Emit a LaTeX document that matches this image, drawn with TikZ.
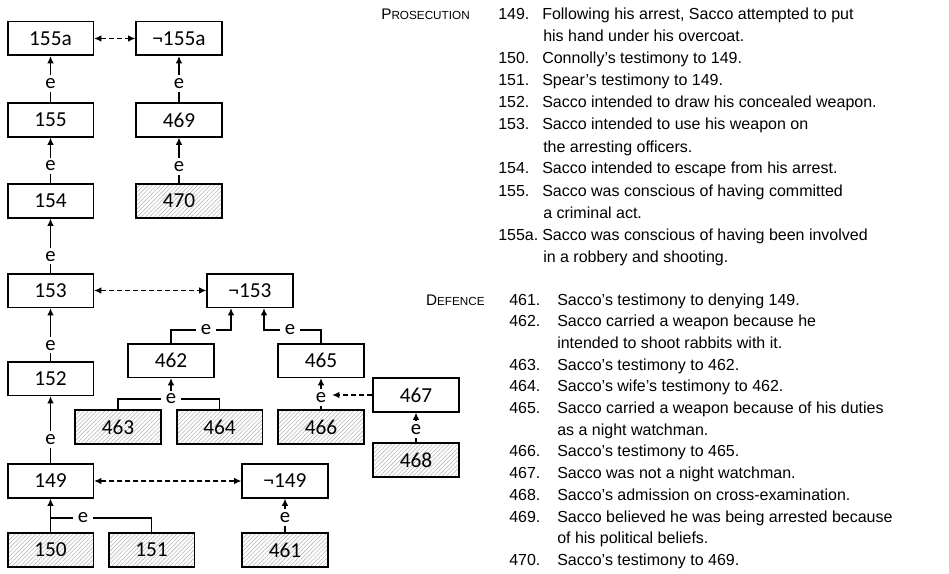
\documentclass[tikz,border=0pt]{standalone}
\usepackage{fontspec}
\setmainfont{Liberation Sans}
\newfontfamily\boxfont{Carlito}
\usetikzlibrary{arrows.meta,patterns.meta}
\begin{document}
\begin{tikzpicture}[x=0.75pt,y=-0.75pt,
  box/.style={draw,line width=1.2pt,minimum width=64.2pt,minimum height=25.2pt,inner sep=0pt,font=\boxfont\fontsize{16}{17}\selectfont},
  hbox/.style={box,pattern={Lines[angle=45,distance=2.2pt,line width=0.45pt]},pattern color=gray!55},
  elab/.style={fill=white,inner xsep=4pt,inner ysep=2.5pt,font=\boxfont\fontsize{15.5}{16}\selectfont},
  arr/.style={line width=1pt,-{Latex[length=5.5pt,width=5pt]}},
  link/.style={line width=1pt},
  dbl/.style={line width=1pt,dash pattern=on 3.75pt off 2.25pt,{Latex[length=5.5pt,width=5pt]}-{Latex[length=5.5pt,width=5pt]}},
  dsh/.style={line width=1pt,dash pattern=on 3.75pt off 2.25pt,-{Latex[length=5.5pt,width=5pt]}},
  txt/.style={anchor=base west,inner sep=0pt,font=\fontsize{12}{14}\selectfont},
  head/.style={anchor=base east,inner sep=0pt}]
\useasboundingbox (0,0) rectangle (949,574);
% boxes
\node[box] (b155a) at (50.5,38.5) {155a};
\node[box] (n155a) at (179,38.5) {¬155a};
\node[box] (b155) at (50.5,120) {155};
\node[box] (b469) at (179,120) {469};
\node[box] (b154) at (50.5,201) {154};
\node[hbox] (b470) at (179,201) {470};
\node[box] (b153) at (50.5,290.5) {153};
\node[box] (n153) at (250,290.5) {¬153};
\node[box] (b462) at (171,360.5) {462};
\node[box] (b465) at (321,360.5) {465};
\node[box] (b152) at (50.5,378.5) {152};
\node[box] (b467) at (416,395) {467};
\node[hbox] (b463) at (118,427) {463};
\node[hbox] (b464) at (219.5,427) {464};
\node[hbox] (b466) at (321,427) {466};
\node[hbox] (b468) at (416,460) {468};
\node[box] (b149) at (50.5,481) {149};
\node[box] (n149) at (285,481) {¬149};
\node[hbox] (b150) at (50.5,550) {150};
\node[hbox] (b151) at (151.5,550) {151};
\node[hbox] (b461) at (285,550) {461};
% simple support links
\draw[arr] (b155) -- node[elab,pos=0.4] (e155) {e} (b155a);
\draw[arr] (b469) -- node[elab,pos=0.4] (e469) {e} (n155a);
\draw[arr] (b154) -- node[elab,pos=0.38] (e154) {e} (b155);
\draw[arr] (b470) -- node[elab,pos=0.38] (e470) {e} (b469);
\draw[arr] (b153) -- node[elab,pos=0.31] (e153) {e} (b154);
\draw[arr] (b152) -- node[elab,pos=0.3] (e152) {e} (b153);
\draw[arr] (b149) -- node[elab,pos=0.35] (e149) {e} (b152);
\draw[arr] (b461) -- node[elab,pos=0.43] (e461) {e} (n149);
\draw[arr] (b466) -- node[elab,pos=0.39] (e466) {e} (b465);
\draw[arr] (b468) -- node[elab,pos=0.42] (e468) {e} (b467);
% conflicts
\draw[dbl] (b155a) -- (n155a);
\draw[dbl] (b153) -- (n153);
\draw[dbl] (b149) -- (n149);
\draw[dsh] (b467.west) -- (b467.west -| e466.east);
% joint links
\coordinate (j149) at (50.5,518);
\draw[arr] (b150) -- (b149);
\draw[link] (j149) -| (b151.north);
\node[elab] (e150) at (83,518) {e};
\coordinate (j462) at (171,399);
\draw[link] (b463.north) |- (j462) -| (b464.north);
\draw[arr] (j462) -- (b462.south);
\node[elab] (e463) at (j462) {e};
\coordinate (k1) at (231,330);
\draw[arr] (b462.north) |- (k1) -- (k1 |- n153.south);
\node[elab] (e462) at (206,330) {e};
\coordinate (k2) at (264,330);
\draw[arr] (b465.north) |- (k2) -- (k2 |- n153.south);
\node[elab] (e465) at (290,330) {e};
% text: prosecution
\node[head] (pros) at (470,20) {\fontsize{11.5}{14}\selectfont P\fontsize{8.8}{14}\selectfont ROSECUTION};
\node[txt] (pn149) at (498,20) {149.};
\node[txt] (pt149) at (542,20) {Following his arrest, Sacco attempted to put};
\node[txt] (pc149) at (543,42) {his hand under his overcoat.};
\node[txt] (pn150) at (498,64) {150.};
\node[txt] (pt150) at (542,64) {Connolly’s testimony to 149.};
\node[txt] (pn151) at (498,86) {151.};
\node[txt] (pt151) at (542,86) {Spear’s testimony to 149.};
\node[txt] (pn152) at (498,108) {152.};
\node[txt] (pt152) at (542,108) {Sacco intended to draw his concealed weapon.};
\node[txt] (pn153) at (498,130) {153.};
\node[txt] (pt153) at (542,130) {Sacco intended to use his weapon on};
\node[txt] (pc153) at (543,152) {the arresting officers.};
\node[txt] (pn154) at (498,174) {154.};
\node[txt] (pt154) at (542,174) {Sacco intended to escape from his arrest.};
\node[txt] (pn155) at (498,196) {155.};
\node[txt] (pt155) at (542,196) {Sacco was conscious of having committed};
\node[txt] (pc155) at (543,218) {a criminal act.};
\node[txt] (pn155a) at (498,240) {155a.};
\node[txt] (pt155a) at (542,240) {Sacco was conscious of having been involved};
\node[txt] (pc155a) at (543,262) {in a robbery and shooting.};
% text: defence
\node[head] (def) at (485,305) {\fontsize{11.5}{14}\selectfont D\fontsize{8.8}{14}\selectfont EFENCE};
\node[txt] (dn461) at (509,305) {461.};
\node[txt] (dt461) at (557,305) {Sacco’s testimony to denying 149.};
\node[txt] (dn462) at (509,326.7) {462.};
\node[txt] (dt462) at (557,326.7) {Sacco carried a weapon because he};
\node[txt] (dc462) at (557,348.4) {intended to shoot rabbits with it.};
\node[txt] (dn463) at (509,370.1) {463.};
\node[txt] (dt463) at (557,370.1) {Sacco’s testimony to 462.};
\node[txt] (dn464) at (509,391.8) {464.};
\node[txt] (dt464) at (557,391.8) {Sacco’s wife’s testimony to 462.};
\node[txt] (dn465) at (509,413.5) {465.};
\node[txt] (dt465) at (557,413.5) {Sacco carried a weapon because of his duties};
\node[txt] (dc465) at (557,435.2) {as a night watchman.};
\node[txt] (dn466) at (509,456.9) {466.};
\node[txt] (dt466) at (557,456.9) {Sacco’s testimony to 465.};
\node[txt] (dn467) at (509,478.6) {467.};
\node[txt] (dt467) at (557,478.6) {Sacco was not a night watchman.};
\node[txt] (dn468) at (509,500.3) {468.};
\node[txt] (dt468) at (557,500.3) {Sacco’s admission on cross-examination.};
\node[txt] (dn469) at (509,522) {469.};
\node[txt] (dt469) at (557,522) {Sacco believed he was being arrested because};
\node[txt] (dc469) at (557,543.7) {of his political beliefs.};
\node[txt] (dn470) at (509,565.4) {470.};
\node[txt] (dt470) at (557,565.4) {Sacco’s testimony to 469.};
\end{tikzpicture}
\end{document}
